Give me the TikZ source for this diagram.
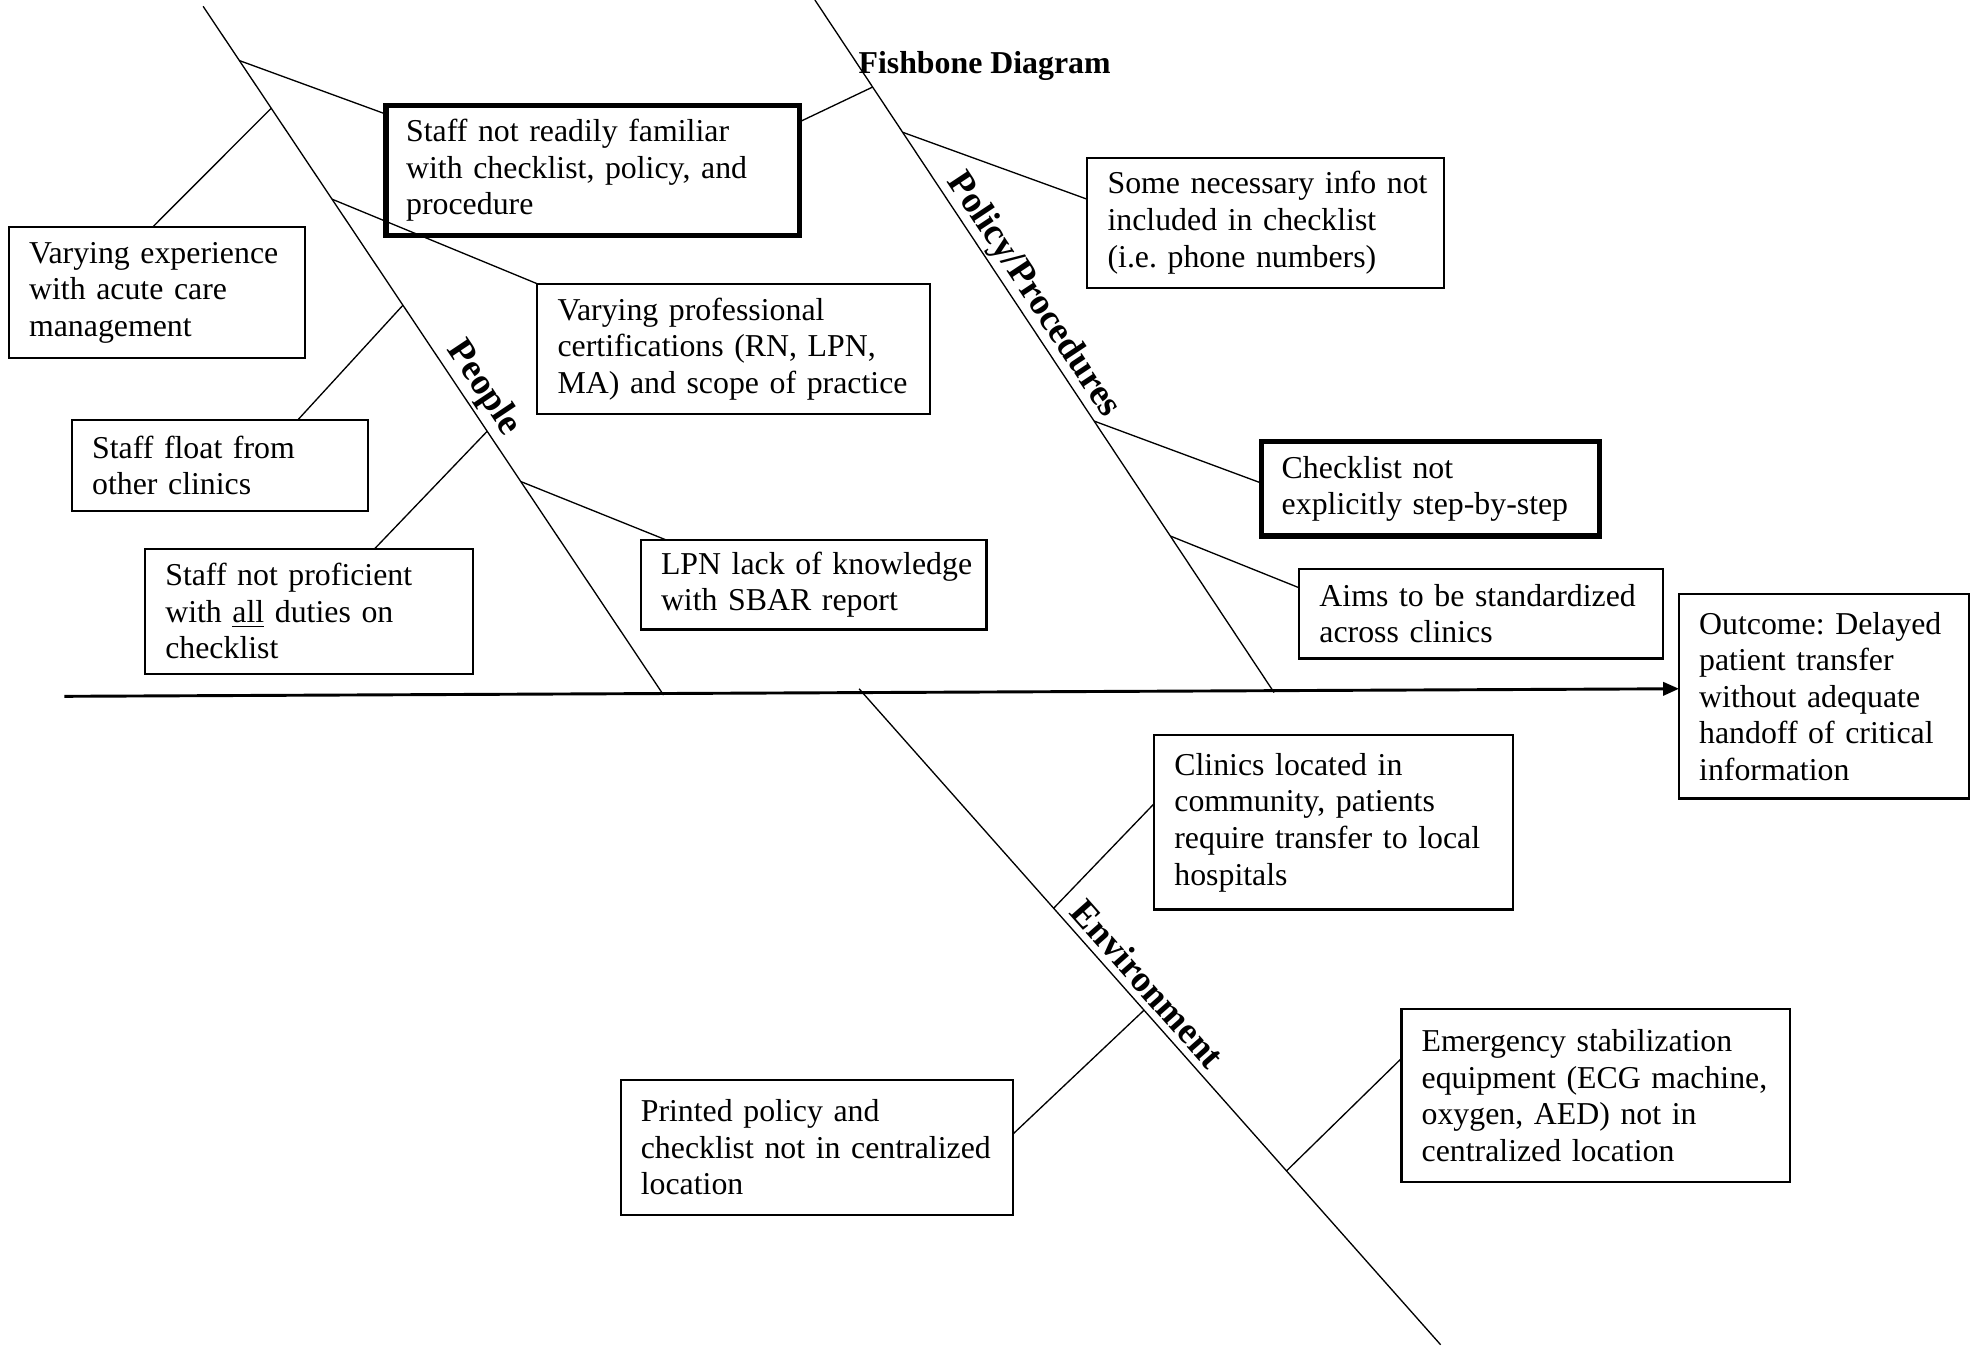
\documentclass[tikz,border=0pt]{standalone}
\usepackage{fontspec}
\setmainfont{Liberation Serif}
\usetikzlibrary{calc,arrows.meta}
\frenchspacing
\begin{document}
\begin{tikzpicture}[x=0.4756pt,y=-0.4756pt,
  every node/.style={font=\fontsize{12}{13.8}\selectfont\frenchspacing},
  box/.style={draw, line width=0.8pt, rectangle, align=left, inner xsep=7.6pt, inner ysep=0pt, outer sep=0pt},
  thickbox/.style={box, line width=2pt},
  bone/.style={line width=0.5pt},
  conn/.style={line width=0.5pt},
  spine/.style={line width=1.1pt, -{Triangle[length=6pt,width=5pt]}},
  bonelabel/.style={font=\bfseries\fontsize{14}{16}\selectfont, inner sep=0pt},
]
\useasboundingbox (0,0) rectangle (1568,1068);

% bones
\coordinate (ppt) at (161,5);   \coordinate (ppb) at (526,551);
\coordinate (pot) at (646,0);   \coordinate (pob) at (1010,549);
\coordinate (ent) at (681,546); \coordinate (enb) at (1142,1066);
\coordinate (spl) at (51,552);

% boxes
\node[thickbox, minimum width=328*0.4756pt, minimum height=103*0.4756pt, text width=140.8pt] (b1) at (470,135)
  {Staff not readily familiar\\with checklist, policy, and\\procedure};
\node[box, minimum width=235*0.4756pt, minimum height=104*0.4756pt, text width=96.5pt] (b2) at (124.5,232)
  {Varying experience\\with acute care\\management};
\node[box, minimum width=311*0.4756pt, minimum height=103*0.4756pt, text width=132.7pt] (b3) at (581.5,276.5)
  {Varying professional\\certifications (RN, LPN,\\MA) and scope of practice};
\node[box, minimum width=235*0.4756pt, minimum height=72*0.4756pt, text width=96.5pt] (b4) at (174.5,369)
  {Staff float from\\other clinics};
\node[box, minimum width=260*0.4756pt, minimum height=99*0.4756pt, text width=108.4pt] (b5) at (245,484.5)
  {Staff not proficient\\with \underline{all} duties on\\checklist};
\node[box, minimum width=274*0.4756pt, minimum height=71*0.4756pt, text width=115.1pt] (b6) at (645,463.5)
  {\mbox{LPN lack of knowledge}\\with SBAR report};
\node[box, minimum width=283*0.4756pt, minimum height=103*0.4756pt, text width=119.4pt] (b7) at (1003.5,176.5)
  {\mbox{Some necessary info not}\\included in checklist\\(i.e. phone numbers)};
\node[thickbox, minimum width=268*0.4756pt, minimum height=75*0.4756pt, text width=112.2pt] (b8) at (1134,387.5)
  {Checklist not\\explicitly step-by-step};
\node[box, minimum width=288*0.4756pt, minimum height=71*0.4756pt, text width=121.8pt] (b9) at (1174,486.5)
  {Aims to be standardized\\across clinics};
\node[box, minimum width=230*0.4756pt, minimum height=162*0.4756pt, text width=94.2pt] (outcome) at (1446,552)
  {Outcome: Delayed\\patient transfer\\without adequate\\handoff of critical\\information};
\node[box, minimum width=284*0.4756pt, minimum height=138*0.4756pt, text width=119.9pt] (b11) at (1057,652)
  {Clinics located in\\community, patients\\require transfer to local\\hospitals};
\node[box, minimum width=308*0.4756pt, minimum height=137*0.4756pt, text width=131.3pt] (b12) at (1265,868.5)
  {Emergency stabilization\\equipment (ECG machine,\\oxygen, AED) not in\\centralized location};
\node[box, minimum width=311*0.4756pt, minimum height=107*0.4756pt, text width=132.7pt] (b13) at (647.5,909.5)
  {Printed policy and\\checklist not in centralized\\location};

% title and bone labels
\node[font=\bfseries\fontsize{12}{13.8}\selectfont, inner sep=0pt] (title) at (780.5,52) {Fishbone Diagram};
\node[bonelabel, rotate=-56.26] (lpeople) at (383,308) {People};
\node[bonelabel, rotate=-56.45] (lpolicy) at (819,234) {Policy/Procedures};
\node[bonelabel, rotate=-48.45] (lenv) at (910,780) {Environment};

% bones and spine
\draw[bone] (ppt) -- (ppb);
\draw[bone] (pot) -- (pob);
\draw[bone] (ent) -- (enb);
\draw[spine] (spl) -- ($(outcome.north west)+(0,75)$);

% points on bones
\coordinate (pp1) at ($(ppt)!0.0788!(ppb)$);
\coordinate (pp2) at ($(ppt)!0.148!(ppb)$);
\coordinate (pp3) at ($(ppt)!0.280!(ppb)$);
\coordinate (pp4) at ($(ppt)!0.434!(ppb)$);
\coordinate (pp5) at ($(ppt)!0.617!(ppb)$);
\coordinate (pp6) at ($(ppt)!0.690!(ppb)$);
\coordinate (po1) at ($(pot)!0.1257!(pob)$);
\coordinate (po2) at ($(pot)!0.191!(pob)$);
\coordinate (po3) at ($(pot)!0.608!(pob)$);
\coordinate (po4) at ($(pot)!0.774!(pob)$);
\coordinate (en1) at ($(ent)!0.3346!(enb)$);
\coordinate (en2) at ($(ent)!0.490!(enb)$);
\coordinate (en3) at ($(ent)!0.735!(enb)$);

% connectors
\draw[conn] (pp1) -- ($(b1.north west)+(0,7)$);
\draw[conn] ($(b2.north west)+(114,0)$) -- (pp2);
\draw[conn] (pp3) -- (b3.north west);
\draw[conn] ($(b4.north west)+(179,0)$) -- (pp4);
\draw[conn] ($(b5.north west)+(182,0)$) -- (pp5);
\draw[conn] (pp6) -- ($(b6.north west)+(20,0)$);
\draw[conn] ($(b1.north east)+(0,13)$) -- (po1);
\draw[conn] (po2) -- ($(b7.north west)+(0,33)$);
\draw[conn] (po3) -- ($(b8.north west)+(0,33)$);
\draw[conn] (po4) -- ($(b9.north west)+(0,15)$);
\draw[conn] ($(b11.north west)+(0,54)$) -- (en1);
\draw[conn] ($(b13.north east)+(0,43)$) -- (en2);
\draw[conn] (en3) -- ($(b12.north west)+(0,39)$);
\end{tikzpicture}
\end{document}
